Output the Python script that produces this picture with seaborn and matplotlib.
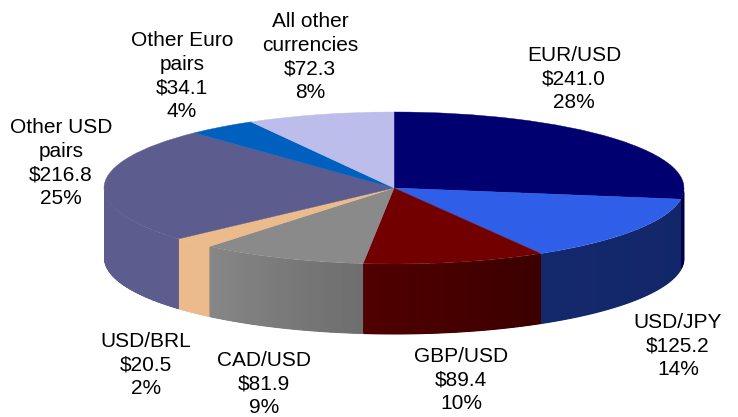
import numpy as np
import matplotlib
matplotlib.use('Agg')
import matplotlib.pyplot as plt
import seaborn as sns

# clockwise from 12 o'clock
names = ['EUR/USD', 'USD/JPY', 'GBP/USD', 'CAD/USD', 'USD/BRL', 'Other USD\npairs', 'Other Euro\npairs', 'All other\ncurrencies']
values = [241.0, 125.2, 89.4, 81.9, 20.5, 216.8, 34.1, 72.3]
shares = [28, 14, 10, 9, 2, 25, 4, 8]

top_colors = ['#000070', '#2f5fe8', '#720000', '#8a8a8a', '#ebbb8c', '#5d5c8e', '#0060c0', '#bcbdeb']
wall_left = ['#000050', '#14296b', '#500000', '#868686', '#ebbb8c', '#5d5c8e', '#004890', '#9091b8']
wall_right = ['#000040', '#12266a', '#3c0000', '#6e6e6e', '#ebbb8c', '#5d5c8e', '#004890', '#9091b8']
label_xy = [(574, 79), (678, 346), (461, 380), (264, 384), (146, 365), (61, 163), (182, 76), (310, 57)]

W, H = 738, 417
cx, cy, rx, ry = 394, 188, 290, 76
depth = 70 / ry

sns.set_theme(style='white')
plt.rcParams['font.family'] = ['Liberation Sans', 'DejaVu Sans']

fig = plt.figure(figsize=(W / 100, H / 100), dpi=100)
ax = fig.add_axes([0, 0, 1, 1])

# walls first, pie on top
edges = np.cumsum([0] + values) / sum(values) * 360
for i in range(len(values)):
    a0 = max(edges[i], 90)
    a1 = min(edges[i + 1], 270)
    if a1 <= a0:
        continue
    n = 30
    shades = sns.blend_palette([wall_right[i], wall_left[i]], n)
    angles = np.radians(np.linspace(a0, a1, n + 1))
    # whole slice once, then the shading strips clipped inside it
    t = np.linspace(angles[0], angles[-1], 80)
    base = ax.fill_between(np.sin(t), np.cos(t), np.cos(t) - depth, color=shades[n // 2], lw=0, zorder=1)
    clip = base.get_paths()[0]
    for k in range(n):
        s = np.linspace(angles[k], angles[k + 1], 6)
        strip = ax.fill_between(np.sin(s), np.cos(s), np.cos(s) - depth, color=shades[k], lw=1.2, zorder=1 + i / 100 + k / 10000)
        strip.set_clip_path(clip, base.get_transform())

wedges, _ = ax.pie(values, colors=sns.color_palette(top_colors), startangle=90, counterclock=False, radius=1)
for w in wedges:
    w.set_edgecolor(w.get_facecolor())
    w.set_linewidth(0.3)
    w.set_zorder(2)

# squash the circle into the tilted ellipse
ax.set_aspect('auto')
ax.set_xlim(-cx / rx, (W - cx) / rx)
ax.set_ylim((cy - H) / ry, cy / ry)
ax.axis('off')

for i in range(len(names)):
    txt = names[i] + '\n\\$' + format(values[i], '.1f') + '\n' + str(shares[i]) + '%'
    fig.text(label_xy[i][0] / W, 1 - label_xy[i][1] / H, txt, ha='center', va='center',
             fontsize=15, color='black', linespacing=1.33)

fig.savefig('out.png', dpi=100)
